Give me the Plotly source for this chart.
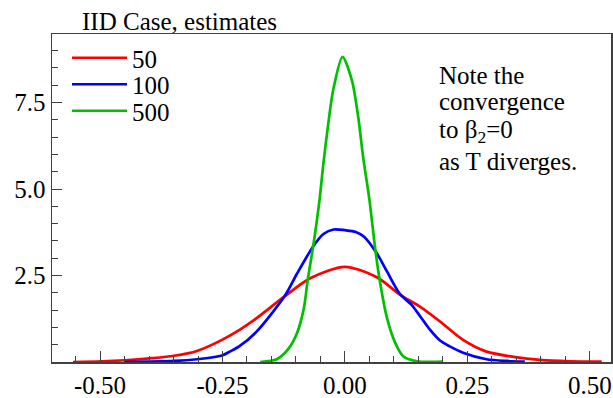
import plotly.graph_objects as go

# T = 50
x50 = [-0.555, -0.496, -0.45, -0.394, -0.349, -0.302, -0.251, -0.216, -0.181, -0.122,
       -0.071, 0.0, 0.065, 0.112, 0.153, 0.194, 0.241, 0.289, 0.344, 0.398, 0.459, 0.524]
y50 = [0.0, 0.02, 0.05, 0.11, 0.18, 0.32, 0.64, 0.92, 1.26, 1.91,
       2.42, 2.75, 2.45, 1.95, 1.60, 1.17, 0.64, 0.30, 0.15, 0.06, 0.02, 0.01]

# T = 100
x100 = [-0.451, -0.40, -0.349, -0.302, -0.251, -0.235, -0.216, -0.181, -0.122, -0.098,
        -0.064, -0.044, -0.023, 0.0, 0.022, 0.039, 0.065, 0.086, 0.112, 0.136,
        0.153, 0.173, 0.194, 0.214, 0.241, 0.289, 0.33, 0.367]
y100 = [0.0, 0.01, 0.03, 0.08, 0.19, 0.30, 0.45, 0.87, 1.93, 2.55,
        3.36, 3.70, 3.83, 3.81, 3.76, 3.62, 3.14, 2.61, 1.97, 1.65,
        1.33, 0.94, 0.62, 0.45, 0.27, 0.08, 0.03, 0.01]

# T = 500
x500 = [-0.173, -0.139, -0.116, -0.098, -0.084, -0.076, -0.064, -0.052, -0.044, -0.034,
        -0.024, -0.005, 0.014, 0.027, 0.037, 0.05, 0.062, 0.072, 0.086, 0.103,
        0.12, 0.147, 0.2]
y500 = [0.0, 0.08, 0.37, 0.83, 1.55, 2.37, 3.43, 4.68, 5.74, 6.90,
        7.86, 8.82, 8.15, 7.09, 5.93, 4.68, 3.24, 2.27, 1.26, 0.54,
        0.15, 0.02, 0.01]

series_names = ["50", "100", "500"]
series_colors = ["#ff0000", "#0000ff", "#00c000"]

x_tickvals = [-0.5, -0.25, 0.0, 0.25, 0.5]
x_ticktext = ["-0.50", "-0.25", "0.00", "0.25", "0.50"]
y_tickvals = [2.5, 5.0, 7.5]
y_ticktext = ["2.5", "5.0", "7.5"]

note_lines = ["Note the", "convergence", "to β<sub>2</sub>=0", "as T diverges."]

FONT = "Liberation Serif, Times New Roman, serif"
AX = "#404040"

def f(size):
    return dict(family=FONT, size=size, color="black")

legend_ids = ["legend", "legend2", "legend3"]
legend_row_px = [58, 84.5, 111]   # vertical centres of legend rows (pixels from top)

fig = go.Figure()
for xs, ys, nm, col, lg in zip([x50, x100, x500], [y50, y100, y500],
                               series_names, series_colors, legend_ids):
    fig.add_trace(go.Scatter(x=xs, y=ys, mode="lines", name=nm, legend=lg,
                             line=dict(color=col, width=2.7, shape="spline", smoothing=0.8)))

legend_common = dict(xanchor="left", yanchor="middle", bgcolor="rgba(0,0,0,0)",
                     font=f(25), itemwidth=55, borderwidth=0)
layout_legends = {}
for lg, row in zip(legend_ids, legend_row_px):
    layout_legends[lg] = dict(legend_common, x=(67 - 52) / 559, y=1 - (row - 34) / 328)

fig.update_layout(
    width=613, height=398,
    margin=dict(l=52, r=2, t=34, b=36, autoexpand=False),
    paper_bgcolor="white", plot_bgcolor="white",
    font=f(25),
    showlegend=True,
    **layout_legends,
)

fig.update_xaxes(
    range=[-0.598, 0.543], showgrid=False, zeroline=False, automargin=False,
    showline=True, linecolor=AX, linewidth=1.5, mirror=True,
    tickmode="array", tickvals=x_tickvals, ticktext=x_ticktext,
    ticks="inside", ticklen=11, tickcolor=AX, tickwidth=1,
    tickfont=f(25),
    minor=dict(tickmode="linear", tick0=0, dtick=0.05, ticks="inside", ticklen=6,
               tickcolor=AX, tickwidth=1),
)
fig.update_yaxes(
    range=[0, 9.48], showgrid=False, zeroline=False, automargin=False,
    showline=True, linecolor=AX, linewidth=1.5, mirror=True,
    tickmode="array", tickvals=y_tickvals, ticktext=y_ticktext,
    ticks="inside", ticklen=10, tickcolor=AX, tickwidth=1,
    tickfont=f(25),
    minor=dict(tickmode="linear", tick0=0, dtick=0.5, ticks="inside", ticklen=6,
               tickcolor=AX, tickwidth=1),
)

fig.add_annotation(text="IID Case, estimates", xref="paper", yref="paper",
                   x=0.05, y=1.0, xanchor="left", yanchor="bottom", yshift=-3,
                   showarrow=False, font=f(25))

# note text, one line per annotation to control spacing
note_tops = [60, 86, 114, 146]
for line, top in zip(note_lines, note_tops):
    fig.add_annotation(text=line, xref="paper", yref="paper",
                       x=(437 - 52) / 559, y=1 - (top - 34) / 328,
                       xanchor="left", yanchor="top", showarrow=False,
                       font=f(25))

fig.write_html(
    "out.html",
    config={"displayModeBar": False, "staticPlot": True},
    post_script="document.body.style.margin='0';document.body.style.overflow='hidden';",
)
